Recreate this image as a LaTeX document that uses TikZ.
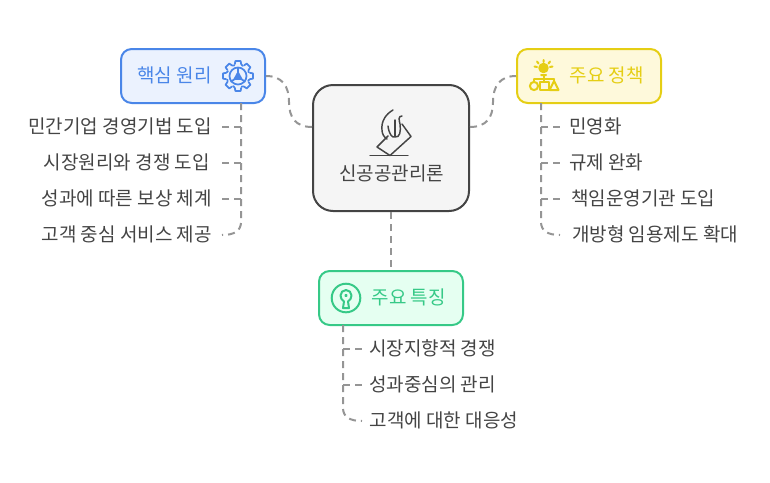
\documentclass[tikz,border=0pt]{standalone}
\usepackage{fontspec}
\setmainfont{Noto Sans CJK KR}
\definecolor{bluec}{HTML}{4A86E8}\definecolor{bluef}{HTML}{EBF2FE}
\definecolor{yelc}{HTML}{E5CE14}\definecolor{yelf}{HTML}{FEF9DB}
\definecolor{grnc}{HTML}{36C987}\definecolor{grnf}{HTML}{E5FFF1}
\definecolor{darkc}{HTML}{444444}\definecolor{lightf}{HTML}{F5F5F5}
\definecolor{linkc}{HTML}{959595}\definecolor{textc}{HTML}{444444}
\tikzset{x=0.75pt,y=-0.75pt,
 hubbox/.style={draw,line width=1.5pt,rounded corners=8pt,minimum width=108pt,minimum height=40.5pt,inner sep=0pt},
 centerbox/.style={draw=darkc,fill=lightf,line width=1.5pt,rounded corners=15pt,minimum width=117pt,minimum height=94.5pt,inner sep=0pt},
 lab/.style={font=\fontsize{14.25pt}{16pt}\selectfont,text=textc,inner sep=0pt},
 hubtxt/.style={font=\fontsize{14.25pt}{16pt}\selectfont,inner sep=0pt},
 link/.style={draw=linkc,line width=1.5pt,dash pattern=on 5.25pt off 3.75pt},
 icon/.style={line width=1.3pt,line join=round,line cap=round}}
\begin{document}
\begin{tikzpicture}
\useasboundingbox (0,0) rectangle (770,482);
\node[hubbox,draw=bluec,fill=bluef] (core) at (193,76) {};
\node[hubbox,draw=yelc,fill=yelf] (policy) at (589,76) {};
\node[hubbox,draw=grnc,fill=grnf] (feat) at (391,298) {};
\node[centerbox] (main) at (391,148) {};
\node[hubtxt,text=darkc] (maint) at (391.7,173.5) {신공공관리론};
\node[hubtxt,text=bluec] (coret) at (174.5,75.5) {핵심 원리};
\node[hubtxt,text=yelc] (policyt) at (606.7,75.5) {주요 정책};
\node[hubtxt,text=grnc] (featt) at (408.7,297.5) {주요 특징};
% leaves
\node[lab,anchor=east] (l1) at (212,126.5) {민간기업 경영기법 도입};
\node[lab,anchor=east] (l2) at (210,162.5) {시장원리와 경쟁 도입};
\node[lab,anchor=east] (l3) at (212,198.5) {성과에 따른 보상 체계};
\node[lab,anchor=east] (l4) at (212,234.5) {고객 중심 서비스 제공};
\node[lab,anchor=west] (r1) at (569,126.5) {민영화};
\node[lab,anchor=west] (r2) at (569,162.5) {규제 완화};
\node[lab,anchor=west] (r3) at (571,198.5) {책임운영기관 도입};
\node[lab,anchor=west] (r4) at (572,234.5) {개방형 임용제도 확대};
\node[lab,anchor=west] (b1) at (369,348.5) {시장지향적 경쟁};
\node[lab,anchor=west] (b2) at (369,384.5) {성과중심의 관리};
\node[lab,anchor=west] (b3) at (369.5,420.5) {고객에 대한 대응성};
% connectors
\draw[link] (main.west |- 0,127) .. controls (296,127) and (289,118) .. (289,102) .. controls (289,86) and (282,76) .. (core.east |- 0,76);
\draw[link] (main.east |- 0,127) .. controls (486,127) and (493,118) .. (493,102) .. controls (493,86) and (500,76) .. (policy.west |- 0,76);
\draw[link] (main.south) -- (feat.north);
\coordinate (ca) at (241,103);\coordinate (pa) at (541,103);\coordinate (fa) at (343,325);
\draw[link] (ca) -- (241,222) .. controls (241,231) and (234,235) .. (222,235);
\draw[link] (pa) -- (541,222) .. controls (541,231) and (548,235) .. (560,235);
\draw[link] (fa) -- (343,408) .. controls (343,417) and (350,421) .. (362,421);
\foreach \y in {127,163,199} {\draw[link] (241,\y) -- (222,\y);\draw[link] (541,\y) -- (560,\y);}
\foreach \y in {349,385} {\draw[link] (343,\y) -- (362,\y);}
% gear icon
\begin{scope}[shift={(238,76)},icon,draw=bluec]
\draw (0,0) circle (8.5);
\draw[fill=bluec] (0,-3.5) -- (3.5,3) -- (-3.5,3) -- cycle;
\draw (0,-8) -- (0,-3) (3,3) -- (7,5.5) (-3,3) -- (-7,5.5);
\foreach \a in {0,45,...,315} {\begin{scope}[rotate=\a]
\draw (-3.2,-11.8) -- (-2.6,-15) -- (2.6,-15) -- (3.2,-11.8) -- ({11.8*sin(22.5)+0.3},{-11.8*cos(22.5)+0.8});
\end{scope}}
\end{scope}
% ballot icon
\begin{scope}[icon,draw=darkc,line width=1.1pt]
\draw (370,155.5) -- (408,155.5);
\draw (388,136) -- (377,147) -- (390,155.5) -- (411,136.5) -- (402,124);
\draw (393,110) .. controls (386,114) and (381,121) .. (382,130) .. controls (382,134) and (384,137) .. (387,139);
\draw (388,126) .. controls (389,134) and (392,138) .. (395,137) .. controls (400,138) and (401,131) .. (400,124) .. controls (399,120) and (398,116) .. (402,116);
\draw (395,120) -- (395,136);
\end{scope}
% policy icon
\begin{scope}[icon,draw=yelc,line width=1.5pt]
\draw[fill=yelc] (543.5,68) circle (4.2);
\draw (541,75) -- (546,75) (543.5,60) -- (543.5,62) (537,61.5) -- (538.5,63.5) (550,61.5) -- (548.5,63.5) (534.5,66.5) -- (537,67) (552.5,66.5) -- (550,67);
\draw (543.5,75) -- (543.5,81);
\draw (534,79) -- (554,79) (534,79) -- (534,82) (554,79) -- (554,81);
\draw (534,86) circle (4.1);
\draw (540,81.5) rectangle (548.5,90);
\draw (554,81) -- (558.5,90) -- (549.5,90) -- cycle;
\end{scope}
% key icon
\begin{scope}[icon,draw=grnc,line width=1.5pt]
\draw (346,298) circle (14.3);
\draw (344,301.5) .. controls (342,300.5) and (340.5,298) .. (340.5,295.5) arc (180:360:5.5) .. controls (351.5,298) and (350,300.5) .. (348,301.5) -- (349,308) -- (343,308) -- cycle;
\draw[fill=grnc] (346,295.5) circle (0.6);
\end{scope}
\end{tikzpicture}
\end{document}
